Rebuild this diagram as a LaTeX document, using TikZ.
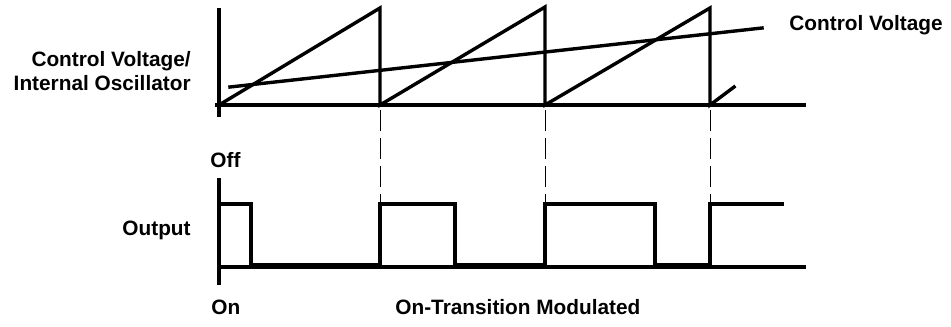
\documentclass[tikz,border=0pt]{standalone}
\usepackage{fontspec}
\setmainfont{Liberation Sans}
\usetikzlibrary{positioning}

\tikzset{
  wave/.style={line width=1.7pt, line join=miter, line cap=rect},
  lowwave/.style={line width=2.6pt},
  guide/.style={line width=0.5pt, dash pattern=on 10.5pt off 3.5pt},
  lbl/.style={font=\fontsize{10.4}{12}\selectfont\bfseries, inner sep=0pt}
}

\begin{document}
\begin{tikzpicture}[x=0.5pt, y=-0.5pt]
            \useasboundingbox (0,0) rectangle (951,326);
            % oscillator axes
            \coordinate (o0) at (219,105);
            \coordinate (o1) at (380,105);
            \coordinate (o2) at (545,105);
            \coordinate (o3) at (710,105);
            \draw[wave] (219,10) -- (219,115);
            \draw[wave] (217,105) -- (804,105);
            % sawtooth
            \draw[wave] (o0) -- (380,8) -- (o1) -- (545,7) -- (o2) -- (710,8) -- (o3) -- (734,87);
            % control voltage
            \draw[wave] (230,87) -- (762,28);
            % output axes
            \coordinate (p1) at (380,204);
            \coordinate (p2) at (545,204);
            \coordinate (p3) at (710,204);
            \draw[wave] (219,180) -- (219,283);
            \draw[wave] (219,267) -- (804,267);
            \draw[wave] (219,204) -- (251,204) -- (251,266);
            \draw[wave] (p1) -- (380,266); \draw[wave] (p1) -- (455,204) -- (455,266);
            \draw[wave] (p2) -- (545,266); \draw[wave] (p2) -- (655,204) -- (655,266);
            \draw[wave] (p3) -- (710,266); \draw[wave] (p3) -- (782,204);
            \draw[lowwave] (251,265.5) -- (380,265.5);
            \draw[lowwave] (455,265.5) -- (545,265.5);
            \draw[lowwave] (655,265.5) -- (710,265.5);
            % guides
            \draw[guide] (o1) ++(0,5) -- ([yshift=-5]p1);
            \draw[guide] (o2) ++(0,5) -- ([yshift=-5]p2);
            \draw[guide] (o3) ++(0,5) -- ([yshift=-5]p3);
            % labels
            \node (osc) [lbl, anchor=east, align=right] at (191,71) {Control Voltage/\\Internal Oscillator};
            \node (cv) [lbl, anchor=west] at (789,25) {Control Voltage};
            \node (off) [lbl, anchor=west] at (210,160) {Off};
            \node (out) [lbl, anchor=east] at (191,230) {Output};
            \node (on) [lbl, anchor=west] at (211,307) {On};
            \node (mod) [lbl, anchor=west] at (395,307) {On-Transition Modulated};
        \end{tikzpicture}
\end{document}
